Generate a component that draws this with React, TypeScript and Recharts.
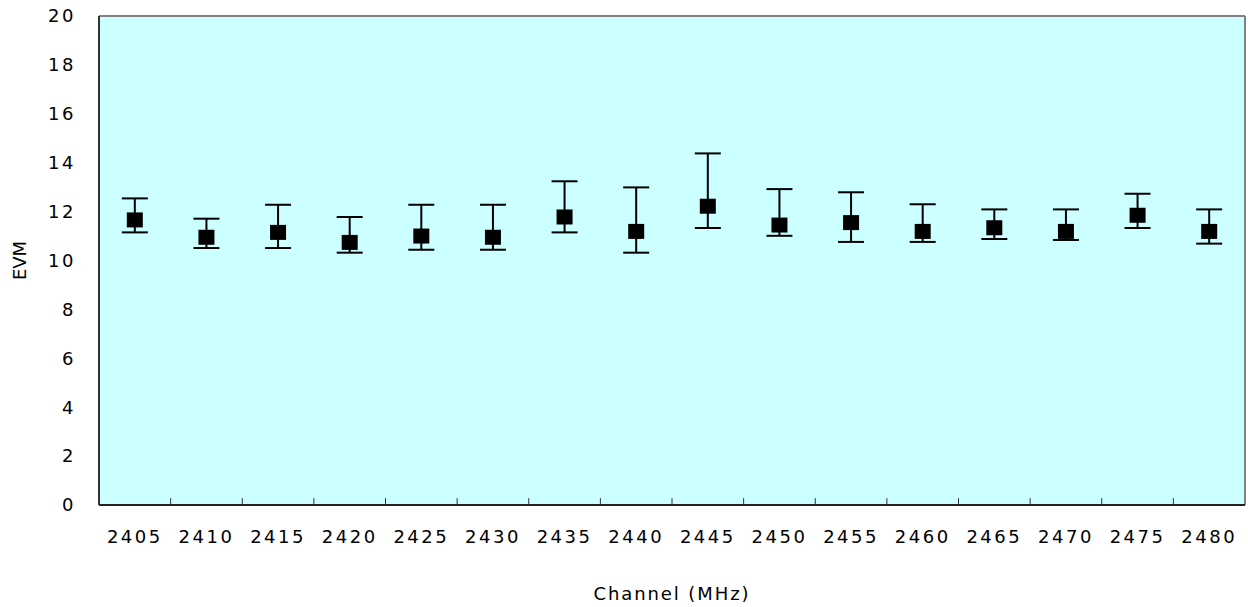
import React from 'react';
import { ComposedChart, Line, XAxis, YAxis, CartesianGrid, ErrorBar, ReferenceLine } from 'recharts';

const channels = ['2405', '2410', '2415', '2420', '2425', '2430', '2435', '2440', '2445', '2450', '2455', '2460', '2465', '2470', '2475', '2480'];
const evmMean = [11.66, 10.95, 11.15, 10.74, 11.0, 10.95, 11.78, 11.19, 12.22, 11.45, 11.55, 11.19, 11.34, 11.19, 11.85, 11.19];
const evmMax = [12.54, 11.71, 12.28, 11.78, 12.28, 12.28, 13.24, 12.99, 14.38, 12.92, 12.79, 12.3, 12.09, 12.09, 12.73, 12.09];
const evmMin = [11.15, 10.51, 10.51, 10.32, 10.44, 10.44, 11.15, 10.32, 11.33, 11.01, 10.76, 10.76, 10.88, 10.84, 11.33, 10.69];
const yTicks = [0, 2, 4, 6, 8, 10, 12, 14, 16, 18, 20];
const Y_MAX = 20;
const TICK_MARK_LEN = 0.28; // inward tick length, in EVM units

const data = channels.map((ch, i) => ({
  ch,
  evm: evmMean[i],
  err: [+(evmMean[i] - evmMin[i]).toFixed(3), +(evmMax[i] - evmMean[i]).toFixed(3)],
}));

const SquareDot = (props: any) => {
  const { cx, cy, index } = props;
  if (cx == null || cy == null) return <g key={`d${index}`} />;
  return <rect key={`d${index}`} x={cx - 8} y={cy - 7.5} width={16} height={15} fill="#000" />;
};

export default function App() {
  return (
    <div style={{ position: 'fixed', top: 0, left: 0, width: 1248, height: 607, fontFamily: 'DejaVu Sans', letterSpacing: '2.5px', background: '#fff' }}>
      <ComposedChart width={1248} height={607} data={data} margin={{ top: 16, right: 3, left: 0, bottom: 0 }}>
        <CartesianGrid vertical={false} strokeDasharray="9 6" stroke="#000" strokeWidth={1} fill="#CCFFFF" fillOpacity={1} />
        <XAxis
          xAxisId="main"
          dataKey="ch"
          type="category"
          scale="band"
          height={102}
          axisLine={{ stroke: '#222', strokeWidth: 2 }}
          tickLine={false}
          tickSize={6}
          tickMargin={19}
          interval={0}
          tick={{ fontSize: 18, fill: '#000' }}
          label={{ value: 'Channel (MHz)', position: 'insideBottom', offset: 7, fontSize: 18, fill: '#000', style: { letterSpacing: '1.9px' } }}
        />
        <YAxis
          yAxisId="left"
          domain={[0, Y_MAX]}
          ticks={yTicks}
          width={99}
          axisLine={{ stroke: '#333', strokeWidth: 2 }}
          tickLine={false}
          tickSize={6}
          tickMargin={17}
          interval={0}
          tick={{ fontSize: 18, fill: '#000' }}
          label={{ value: 'EVM', angle: -90, position: 'insideLeft', offset: 20, fontSize: 18, fill: '#000', style: { textAnchor: 'middle', letterSpacing: '0px' } }}
        />
        <ReferenceLine xAxisId="main" yAxisId="left" y={Y_MAX} stroke="#808080" strokeWidth={2} />
        <ReferenceLine xAxisId="main" yAxisId="left" x={channels[channels.length - 1]} position="end" stroke="#808080" strokeWidth={2} />
        {channels.slice(0, -1).map((c) => (
          <ReferenceLine
            key={`tb${c}`}
            xAxisId="main"
            yAxisId="left"
            position="end"
            segment={[{ x: c, y: 0 }, { x: c, y: TICK_MARK_LEN }]}
            stroke="#333"
            strokeWidth={1}
          />
        ))}
        <Line
          xAxisId="main"
          yAxisId="left"
          dataKey="evm"
          stroke="none"
          isAnimationActive={false}
          dot={SquareDot}
          activeDot={false}
        >
          <ErrorBar dataKey="err" direction="y" width={13} stroke="#000" strokeWidth={2} isAnimationActive={false} />
        </Line>
      </ComposedChart>
    </div>
  );
}
